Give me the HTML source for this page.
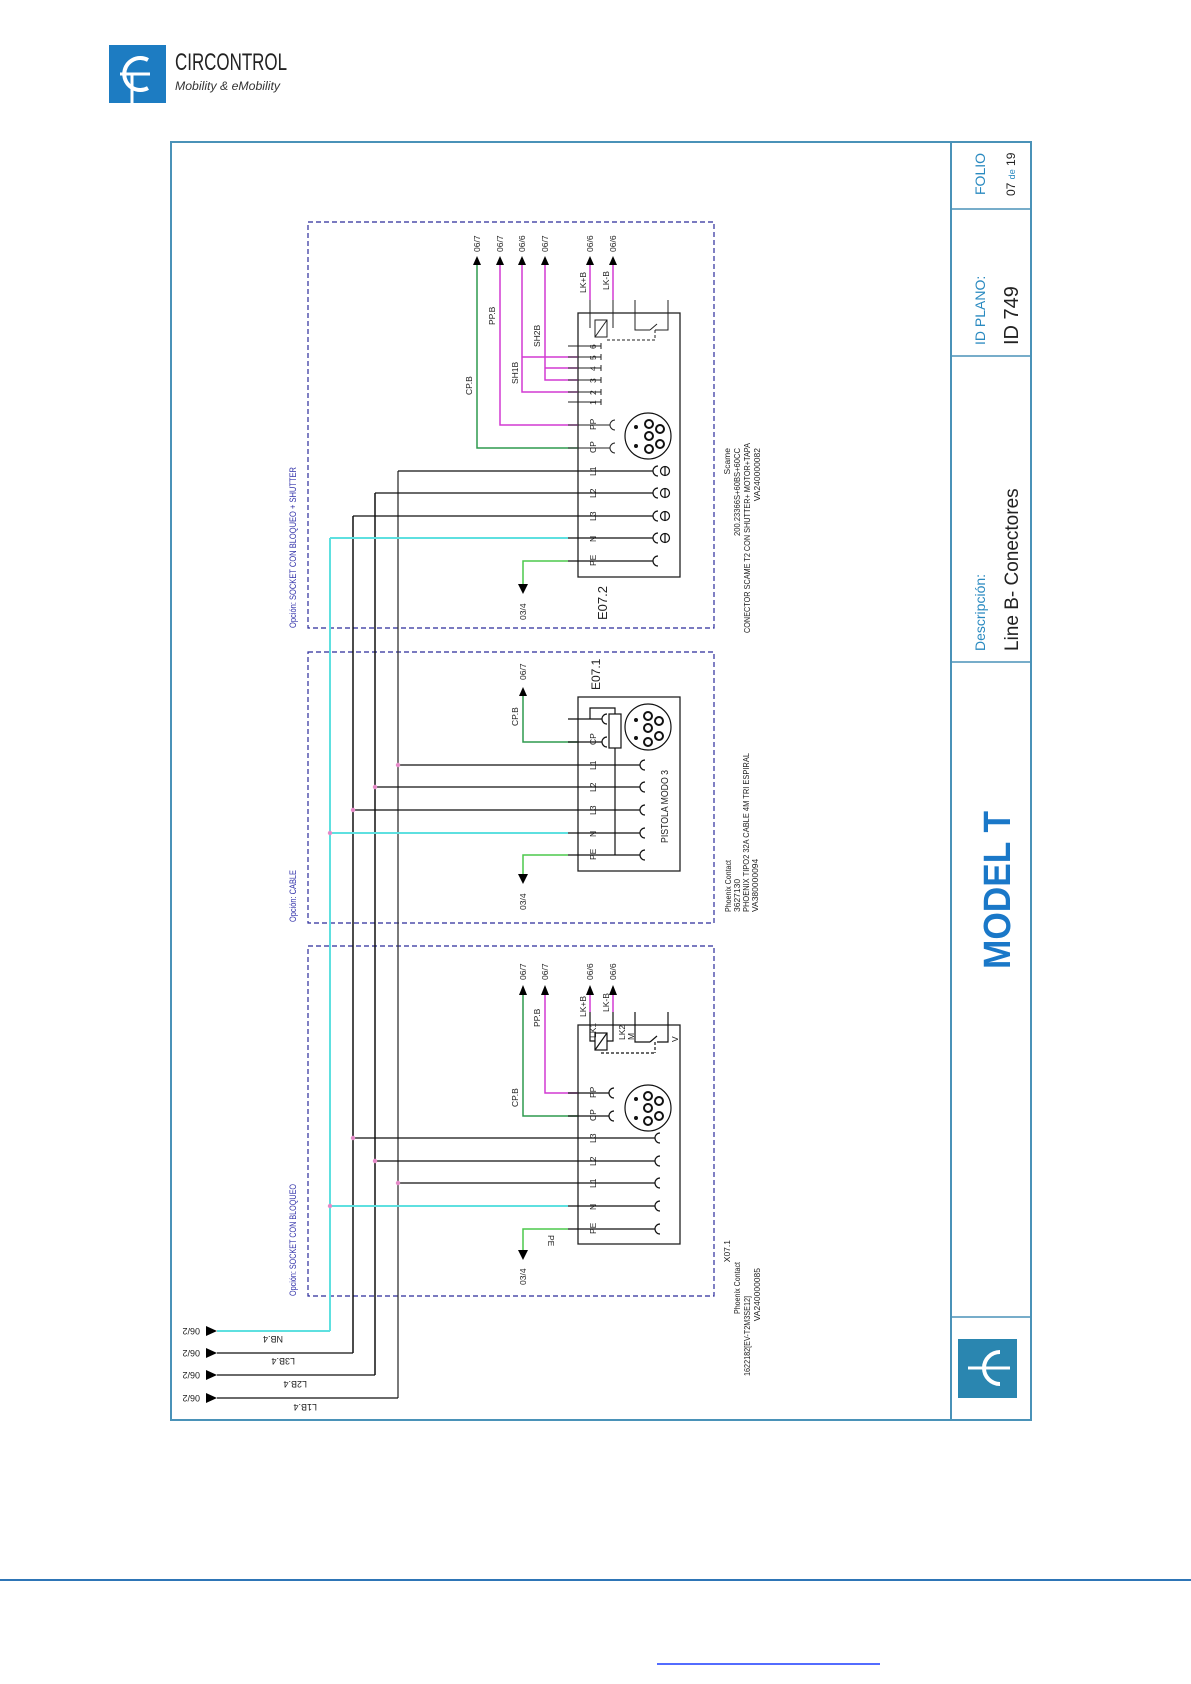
<!DOCTYPE html>
<html><head><meta charset="utf-8"><style>
html,body{margin:0;padding:0;background:#fff}
svg{display:block}
text{font-family:"Liberation Sans Narrow","Liberation Sans",sans-serif}
</style></head><body>
<svg width="1191" height="1684" viewBox="0 0 1191 1684" xmlns="http://www.w3.org/2000/svg">
<!-- header logo -->
<rect x="109" y="45" width="57" height="58" fill="#1d7cc2"/>
<path d="M148 60 A16 16 0 1 0 148 88" fill="none" stroke="#fff" stroke-width="4"/>
<line x1="120" y1="74" x2="150" y2="74" stroke="#fff" stroke-width="3"/>
<line x1="132" y1="74" x2="132" y2="103" stroke="#fff" stroke-width="3"/>
<text x="175" y="70" font-size="24" fill="#222" style="font-family:'Liberation Sans',sans-serif" textLength="112" lengthAdjust="spacingAndGlyphs">CIRCONTROL</text>
<text x="175" y="90" font-size="12" font-style="italic" fill="#333" style="font-family:'Liberation Sans',sans-serif" textLength="105" lengthAdjust="spacingAndGlyphs">Mobility &amp; eMobility</text>

<!-- frame -->
<rect x="171" y="142" width="860" height="1278" fill="none" stroke="#4a92b8" stroke-width="2"/>
<line x1="951" y1="142" x2="951" y2="1420" stroke="#4a92b8" stroke-width="2"/>
<g stroke="#4a92b8" stroke-width="1.5">
<line x1="951" y1="209" x2="1031" y2="209"/>
<line x1="951" y1="356" x2="1031" y2="356"/>
<line x1="951" y1="662" x2="1031" y2="662"/>
<line x1="951" y1="1317" x2="1031" y2="1317"/>
</g>
<g style="font-family:'Liberation Sans',sans-serif">
<text transform="translate(985,195) rotate(-90)" font-size="14" fill="#2a8ac0">FOLIO</text>
<text transform="translate(1015,196) rotate(-90)" font-size="12" fill="#222">07 <tspan fill="#2a8ac0" font-size="9">de</tspan> 19</text>
<text transform="translate(985,345) rotate(-90)" font-size="14" fill="#2a8ac0">ID PLANO:</text>
<text transform="translate(1018,345) rotate(-90)" font-size="20" fill="#222">ID 749</text>
<text transform="translate(985,651) rotate(-90)" font-size="14" fill="#2a8ac0">Descripción:</text>
<text transform="translate(1018,651) rotate(-90)" font-size="19" fill="#222">Line B- Conectores</text>
<text transform="translate(1010,969) rotate(-90)" font-size="38" font-weight="bold" fill="#1a78c8" textLength="158" lengthAdjust="spacingAndGlyphs">MODEL T</text>
</g>
<rect x="958" y="1339" width="59" height="59" fill="#2a86b0"/>
<path d="M1000 1352 A16 16 0 1 0 1000 1384" fill="none" stroke="#fff" stroke-width="4"/>
<line x1="968" y1="1368" x2="1010" y2="1368" stroke="#fff" stroke-width="3"/>

<!-- dashed boxes -->
<g fill="none" stroke="#2b2b9b" stroke-width="1.2" stroke-dasharray="5 3">
<rect x="308" y="222" width="406" height="406"/>
<rect x="308" y="652" width="406" height="271"/>
<rect x="308" y="946" width="406" height="350"/>
</g>
<g font-size="9" fill="#3333aa">
<text transform="translate(296,628) rotate(-90)" textLength="161" lengthAdjust="spacingAndGlyphs">Opción: SOCKET CON BLOQUEO + SHUTTER</text>
<text transform="translate(296,922) rotate(-90)" textLength="52" lengthAdjust="spacingAndGlyphs">Opción: CABLE</text>
<text transform="translate(296,1296) rotate(-90)" textLength="112" lengthAdjust="spacingAndGlyphs">Opción: SOCKET CON BLOQUEO</text>
</g>

<!-- main vertical buses -->
<line x1="330" y1="538" x2="330" y2="1331" stroke="#5ee0e0" stroke-width="2"/>
<line x1="353" y1="516" x2="353" y2="1353" stroke="#111" stroke-width="1.5"/>
<line x1="375" y1="493" x2="375" y2="1375" stroke="#111" stroke-width="1.5"/>
<line x1="398" y1="471" x2="398" y2="1398" stroke="#333" stroke-width="1.3"/>

<!-- bottom feed -->
<line x1="217" y1="1331" x2="330" y2="1331" stroke="#5ee0e0" stroke-width="2"/>
<line x1="217" y1="1353" x2="353" y2="1353" stroke="#111" stroke-width="1.3"/>
<line x1="217" y1="1375" x2="375" y2="1375" stroke="#111" stroke-width="1.3"/>
<line x1="217" y1="1398" x2="398" y2="1398" stroke="#111" stroke-width="1.3"/>
<g fill="#000">
<polygon points="206,1326 217,1331 206,1336"/>
<polygon points="206,1348 217,1353 206,1358"/>
<polygon points="206,1370 217,1375 206,1380"/>
<polygon points="206,1393 217,1398 206,1403"/>
</g>
<g font-size="9" fill="#222">
<text transform="translate(200,1328) rotate(180)">06/2</text>
<text transform="translate(200,1350) rotate(180)">06/2</text>
<text transform="translate(200,1372) rotate(180)">06/2</text>
<text transform="translate(200,1395) rotate(180)">06/2</text>
<text transform="translate(283,1336) rotate(180)">NB.4</text>
<text transform="translate(295,1358) rotate(180)">L3B.4</text>
<text transform="translate(307,1381) rotate(180)">L2B.4</text>
<text transform="translate(317,1404) rotate(180)">L1B.4</text>
</g>

<!-- ========== BOX 1 (E07.2) ========== -->
<rect x="578" y="313" width="102" height="264" fill="none" stroke="#222" stroke-width="1.3"/>
<g stroke-width="1.5" fill="none">
<polyline points="477,264 477,448 578,448" stroke="#2e9a4e"/>
<polyline points="500,264 500,425 578,425" stroke="#d23ad2"/>
<polyline points="522,264 522,392 578,392" stroke="#d23ad2"/>
<polyline points="522,357 578,357" stroke="#d23ad2"/>
<polyline points="545,264 545,380 578,380" stroke="#d23ad2"/>
<polyline points="545,368 578,368" stroke="#d23ad2"/>
<polyline points="590,264 590,300" stroke="#d23ad2"/>
<polyline points="613,264 613,300" stroke="#d23ad2"/>
</g>
<g stroke="#222" stroke-width="1" fill="none">
<line x1="568" y1="346" x2="601" y2="346"/><line x1="568" y1="357" x2="601" y2="357"/>
<line x1="568" y1="368" x2="601" y2="368"/><line x1="568" y1="380" x2="601" y2="380"/>
<line x1="568" y1="392" x2="601" y2="392"/><line x1="568" y1="402" x2="601" y2="402"/>
<line x1="601" y1="343" x2="601" y2="349"/><line x1="601" y1="354" x2="601" y2="360"/>
<line x1="601" y1="365" x2="601" y2="371"/><line x1="601" y1="377" x2="601" y2="383"/>
<line x1="601" y1="389" x2="601" y2="395"/><line x1="601" y1="399" x2="601" y2="405"/>
<line x1="568" y1="425" x2="610" y2="425"/><line x1="568" y1="448" x2="610" y2="448"/>
<path d="M615 420 A5 5 0 0 0 615 430"/><path d="M615 443 A5 5 0 0 0 615 453"/>
<line x1="590" y1="300" x2="590" y2="328"/><line x1="613" y1="300" x2="613" y2="328"/>
<rect x="595" y="320" width="12" height="17"/><line x1="595" y1="337" x2="607" y2="320"/>
<polyline points="635,300 635,330 650,330"/><polyline points="668,300 668,330 655,330"/>
<line x1="650" y1="330" x2="657" y2="324"/>
<line x1="607" y1="340" x2="655" y2="340" stroke-dasharray="3 2"/>
<line x1="655" y1="330" x2="655" y2="340" stroke-dasharray="3 2"/>
</g>
<g fill="#000">
<polygon points="473,265 477,256 481,265"/><polygon points="496,265 500,256 504,265"/>
<polygon points="518,265 522,256 526,265"/><polygon points="541,265 545,256 549,265"/>
<polygon points="586,265 590,256 594,265"/><polygon points="609,265 613,256 617,265"/>
</g>
<g font-size="8.5" fill="#222">
<text transform="translate(480,252) rotate(-90)">06/7</text>
<text transform="translate(503,252) rotate(-90)">06/7</text>
<text transform="translate(525,252) rotate(-90)">06/6</text>
<text transform="translate(548,252) rotate(-90)">06/7</text>
<text transform="translate(593,252) rotate(-90)">06/6</text>
<text transform="translate(616,252) rotate(-90)">06/6</text>
<text transform="translate(472,395) rotate(-90)">CP.B</text>
<text transform="translate(495,325) rotate(-90)">PP.B</text>
<text transform="translate(518,384) rotate(-90)">SH1B</text>
<text transform="translate(540,347) rotate(-90)">SH2B</text>
<text transform="translate(586,293) rotate(-90)">LK+B</text>
<text transform="translate(609,290) rotate(-90)">LK-B</text>
<text transform="translate(596,405) rotate(-90)">1</text><text transform="translate(596,395) rotate(-90)">2</text>
<text transform="translate(596,383) rotate(-90)">3</text><text transform="translate(596,371) rotate(-90)">4</text>
<text transform="translate(596,360) rotate(-90)">5</text><text transform="translate(596,349) rotate(-90)">6</text>
<text transform="translate(596,430) rotate(-90)">PP</text><text transform="translate(596,453) rotate(-90)">CP</text>
<text transform="translate(596,476) rotate(-90)">L1</text><text transform="translate(596,498) rotate(-90)">L2</text>
<text transform="translate(596,521) rotate(-90)">L3</text><text transform="translate(596,542) rotate(-90)">N</text>
<text transform="translate(596,566) rotate(-90)">PE</text>
<text transform="translate(526,620) rotate(-90)">03/4</text>
<text transform="translate(607,620) rotate(-90)" font-size="13">E07.2</text>
<text transform="translate(730,448) rotate(-90)" text-anchor="end">Scame</text>
<text transform="translate(740,448) rotate(-90)" text-anchor="end" textLength="88" lengthAdjust="spacingAndGlyphs">200.23366S+60BS+60CC</text>
<text transform="translate(750,443) rotate(-90)" textLength="190" lengthAdjust="spacingAndGlyphs" text-anchor="end">CONECTOR SCAME T2 CON SHUTTER+ MOTOR+TAPA</text>
<text transform="translate(760,448) rotate(-90)" text-anchor="end">VA240000082</text>
</g>
<line x1="398" y1="471" x2="653" y2="471" stroke="#111" stroke-width="1.3"/>
<line x1="375" y1="493" x2="653" y2="493" stroke="#111" stroke-width="1.3"/>
<line x1="353" y1="516" x2="653" y2="516" stroke="#111" stroke-width="1.3"/>
<line x1="330" y1="538" x2="568" y2="538" stroke="#5ee0e0" stroke-width="2"/>
<line x1="568" y1="538" x2="653" y2="538" stroke="#111" stroke-width="1.3"/>
<polyline points="523,585 523,561 568,561" fill="none" stroke="#4cc94c" stroke-width="1.5"/>
<line x1="568" y1="561" x2="653" y2="561" stroke="#111" stroke-width="1.3"/>
<polygon points="518,584 528,584 523,594" fill="#000"/>
<g fill="none" stroke="#111" stroke-width="1.2">
<path d="M658 466 A5 5 0 0 0 658 476"/><circle cx="665" cy="471" r="4.5"/><line x1="665" y1="466" x2="665" y2="476"/>
<path d="M658 488 A5 5 0 0 0 658 498"/><circle cx="665" cy="493" r="4.5"/><line x1="665" y1="488" x2="665" y2="498"/>
<path d="M658 511 A5 5 0 0 0 658 521"/><circle cx="665" cy="516" r="4.5"/><line x1="665" y1="511" x2="665" y2="521"/>
<path d="M658 533 A5 5 0 0 0 658 543"/><circle cx="665" cy="538" r="4.5"/><line x1="665" y1="533" x2="665" y2="543"/>
<path d="M658 556 A5 5 0 0 0 658 566"/>
<circle cx="648" cy="436" r="23"/>
</g>
<g fill="none" stroke="#111" stroke-width="2">
<circle cx="649" cy="424" r="4"/><circle cx="660" cy="429" r="4"/><circle cx="649" cy="436" r="4"/>
<circle cx="660" cy="444" r="4"/><circle cx="649" cy="449" r="4"/>
</g>
<g fill="#111"><circle cx="636" cy="427" r="2"/><circle cx="636" cy="446" r="2"/></g>

<!-- ========== BOX 2 (E07.1) ========== -->
<rect x="578" y="697" width="102" height="174" fill="none" stroke="#222" stroke-width="1.3"/>
<polyline points="523,695 523,742 578,742" fill="none" stroke="#2e9a4e" stroke-width="1.5"/>
<polygon points="519,696 523,687 527,696" fill="#000"/>
<g stroke="#111" stroke-width="1.2" fill="none">
<line x1="568" y1="742" x2="602" y2="742"/><line x1="568" y1="719" x2="602" y2="719"/>
<path d="M607 714 A5 5 0 0 0 607 724"/><path d="M607 737 A5 5 0 0 0 607 747"/>
<polyline points="590,719 590,708 615,708 615,714"/>
<rect x="609" y="714" width="12" height="34"/>
<line x1="615" y1="748" x2="615" y2="855"/>
<circle cx="648" cy="727" r="23"/>
</g>
<g fill="none" stroke="#111" stroke-width="2">
<circle cx="648" cy="716" r="4"/><circle cx="659" cy="721" r="4"/><circle cx="648" cy="728" r="4"/>
<circle cx="659" cy="736" r="4"/><circle cx="648" cy="742" r="4"/>
</g>
<g fill="#111"><circle cx="636" cy="720" r="2"/><circle cx="636" cy="738" r="2"/></g>
<line x1="398" y1="765" x2="640" y2="765" stroke="#111" stroke-width="1.3"/>
<line x1="375" y1="787" x2="640" y2="787" stroke="#111" stroke-width="1.3"/>
<line x1="353" y1="810" x2="640" y2="810" stroke="#111" stroke-width="1.3"/>
<line x1="330" y1="833" x2="568" y2="833" stroke="#5ee0e0" stroke-width="2"/>
<line x1="568" y1="833" x2="640" y2="833" stroke="#111" stroke-width="1.3"/>
<polyline points="523,875 523,855 568,855" fill="none" stroke="#4cc94c" stroke-width="1.5"/>
<line x1="568" y1="855" x2="640" y2="855" stroke="#111" stroke-width="1.3"/>
<polygon points="518,874 528,874 523,884" fill="#000"/>
<g fill="none" stroke="#111" stroke-width="1.2">
<path d="M645 760 A5 5 0 0 0 645 770"/><path d="M645 782 A5 5 0 0 0 645 792"/>
<path d="M645 805 A5 5 0 0 0 645 815"/><path d="M645 828 A5 5 0 0 0 645 838"/>
<path d="M645 850 A5 5 0 0 0 645 860"/>
</g>
<g fill="#e58ac8"><circle cx="398" cy="765" r="2.2"/><circle cx="375" cy="787" r="2.2"/><circle cx="353" cy="810" r="2.2"/><circle cx="330" cy="833" r="2.2"/></g>
<g font-size="8.5" fill="#222">
<text transform="translate(526,680) rotate(-90)">06/7</text>
<text transform="translate(518,726) rotate(-90)">CP.B</text>
<text transform="translate(526,910) rotate(-90)">03/4</text>
<text transform="translate(600,690) rotate(-90)" font-size="12">E07.1</text>
<text transform="translate(596,745) rotate(-90)">CP</text>
<text transform="translate(596,770) rotate(-90)">L1</text><text transform="translate(596,792) rotate(-90)">L2</text>
<text transform="translate(596,815) rotate(-90)">L3</text><text transform="translate(596,837) rotate(-90)">N</text>
<text transform="translate(596,860) rotate(-90)">PE</text>
<text transform="translate(668,843) rotate(-90)" font-size="10" textLength="73" lengthAdjust="spacingAndGlyphs">PISTOLA MODO 3</text>
<text transform="translate(731,912) rotate(-90)" textLength="52" lengthAdjust="spacingAndGlyphs">Phoenix Contact</text>
<text transform="translate(740,912) rotate(-90)">3627130</text>
<text transform="translate(749,912) rotate(-90)" textLength="159" lengthAdjust="spacingAndGlyphs">PHOENIX TIPO2 32A CABLE 4M TRI ESPIRAL</text>
<text transform="translate(758,912) rotate(-90)">VA380000094</text>
</g>

<!-- ========== BOX 3 (X07.1) ========== -->
<rect x="578" y="1025" width="102" height="219" fill="none" stroke="#222" stroke-width="1.3"/>
<g stroke-width="1.5" fill="none">
<polyline points="523,994 523,1116 578,1116" stroke="#2e9a4e"/>
<polyline points="545,994 545,1093 578,1093" stroke="#d23ad2"/>
<polyline points="590,994 590,1012" stroke="#d23ad2"/>
<polyline points="613,994 613,1012" stroke="#d23ad2"/>
</g>
<g fill="#000">
<polygon points="519,995 523,985 527,995"/><polygon points="541,995 545,985 549,995"/>
<polygon points="586,995 590,985 594,995"/><polygon points="609,995 613,985 617,995"/>
</g>
<g stroke="#111" stroke-width="1.2" fill="none">
<line x1="568" y1="1093" x2="609" y2="1093"/><line x1="568" y1="1116" x2="609" y2="1116"/>
<path d="M614 1088 A5 5 0 0 0 614 1098"/><path d="M614 1111 A5 5 0 0 0 614 1121"/>
<polyline points="590,1012 590,1041 595,1041"/><polyline points="613,1012 613,1041 607,1041"/>
<rect x="595" y="1033" width="12" height="17"/><line x1="595" y1="1050" x2="607" y2="1033"/>
<polyline points="635,1012 635,1042 650,1042"/><polyline points="668,1012 668,1042 657,1042"/>
<line x1="650" y1="1042" x2="657" y2="1036"/>
<line x1="601" y1="1053" x2="655" y2="1053" stroke-dasharray="3 2"/>
<line x1="655" y1="1042" x2="655" y2="1053" stroke-dasharray="3 2"/>
<circle cx="648" cy="1108" r="23"/>
</g>
<g fill="none" stroke="#111" stroke-width="2">
<circle cx="648" cy="1096" r="4"/><circle cx="659" cy="1101" r="4"/><circle cx="648" cy="1108" r="4"/>
<circle cx="659" cy="1116" r="4"/><circle cx="648" cy="1121" r="4"/>
</g>
<g fill="#111"><circle cx="636" cy="1099" r="2"/><circle cx="636" cy="1118" r="2"/></g>
<line x1="353" y1="1138" x2="655" y2="1138" stroke="#111" stroke-width="1.3"/>
<line x1="375" y1="1161" x2="655" y2="1161" stroke="#111" stroke-width="1.3"/>
<line x1="398" y1="1183" x2="655" y2="1183" stroke="#111" stroke-width="1.3"/>
<line x1="330" y1="1206" x2="568" y2="1206" stroke="#5ee0e0" stroke-width="2"/>
<line x1="568" y1="1206" x2="655" y2="1206" stroke="#111" stroke-width="1.3"/>
<polyline points="523,1251 523,1229 568,1229" fill="none" stroke="#4cc94c" stroke-width="1.5"/>
<line x1="568" y1="1229" x2="655" y2="1229" stroke="#111" stroke-width="1.3"/>
<polygon points="518,1250 528,1250 523,1260" fill="#000"/>
<g fill="none" stroke="#111" stroke-width="1.2">
<path d="M660 1133 A5 5 0 0 0 660 1143"/><path d="M660 1156 A5 5 0 0 0 660 1166"/>
<path d="M660 1178 A5 5 0 0 0 660 1188"/><path d="M660 1201 A5 5 0 0 0 660 1211"/>
<path d="M660 1224 A5 5 0 0 0 660 1234"/>
</g>
<g fill="#e58ac8"><circle cx="353" cy="1138" r="2.2"/><circle cx="375" cy="1161" r="2.2"/><circle cx="398" cy="1183" r="2.2"/><circle cx="330" cy="1206" r="2.2"/></g>
<g font-size="8.5" fill="#222">
<text transform="translate(526,980) rotate(-90)">06/7</text>
<text transform="translate(548,980) rotate(-90)">06/7</text>
<text transform="translate(593,980) rotate(-90)">06/6</text>
<text transform="translate(616,980) rotate(-90)">06/6</text>
<text transform="translate(518,1107) rotate(-90)">CP.B</text>
<text transform="translate(540,1027) rotate(-90)">PP.B</text>
<text transform="translate(586,1017) rotate(-90)">LK+B</text>
<text transform="translate(609,1012) rotate(-90)">LK-B</text>
<text transform="translate(596,1038) rotate(-90)">LK1</text>
<text transform="translate(625,1040) rotate(-90)">LK2</text>
<text transform="translate(634,1040) rotate(-90)">M</text>
<text transform="translate(678,1042) rotate(-90)">V</text>
<text transform="translate(596,1098) rotate(-90)">PP</text><text transform="translate(596,1121) rotate(-90)">CP</text>
<text transform="translate(596,1143) rotate(-90)">L3</text><text transform="translate(596,1166) rotate(-90)">L2</text>
<text transform="translate(596,1188) rotate(-90)">L1</text><text transform="translate(596,1210) rotate(-90)">N</text>
<text transform="translate(596,1234) rotate(-90)">PE</text>
<text transform="translate(548,1235) rotate(90)">PE</text>
<text transform="translate(526,1285) rotate(-90)">03/4</text>
<text transform="translate(730,1240) rotate(-90)" text-anchor="end">X07.1</text>
<text transform="translate(740,1262) rotate(-90)" text-anchor="end" textLength="52" lengthAdjust="spacingAndGlyphs">Phoenix Contact</text>
<text transform="translate(750,1296) rotate(-90)" text-anchor="end" textLength="80" lengthAdjust="spacingAndGlyphs">1622182[EV-T2M3SE12]</text>
<text transform="translate(760,1268) rotate(-90)" text-anchor="end">VA240000085</text>
</g>

<!-- footer -->
<line x1="0" y1="1580" x2="1191" y2="1580" stroke="#2e75b6" stroke-width="2"/>
<line x1="657" y1="1664" x2="880" y2="1664" stroke="#1a3cff" stroke-width="1.5"/>
</svg>
</body></html>
